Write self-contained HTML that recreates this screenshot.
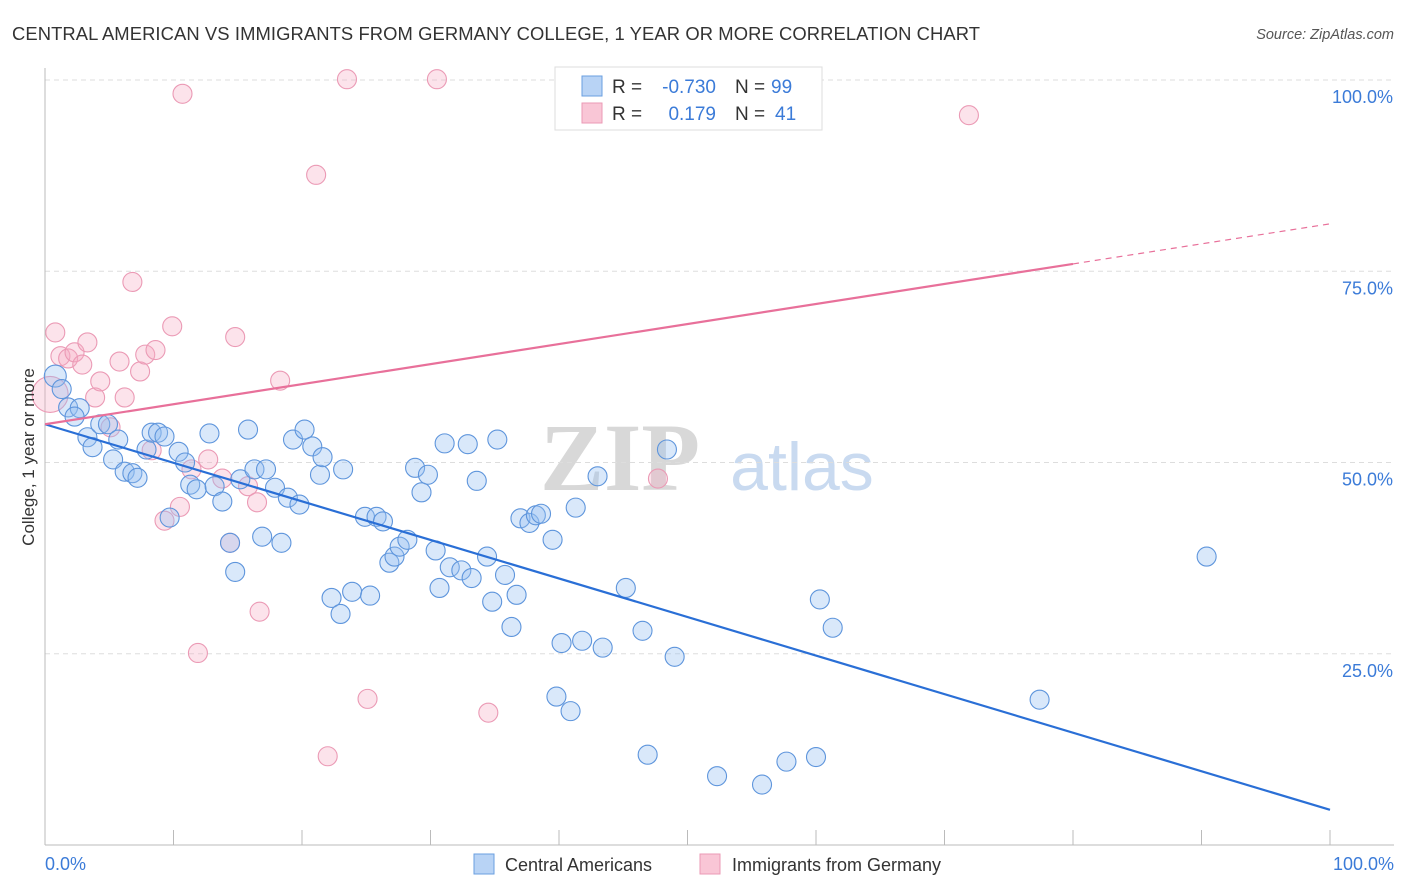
<!DOCTYPE html>
<html><head><meta charset="utf-8"><style>
body{margin:0;background:#fff;font-family:"Liberation Sans",sans-serif}
svg{display:block}
</style></head><body>
<svg id="chart" width="1406" height="892">
<text x="12" y="40" font-size="18.4" fill="#333" textLength="968">CENTRAL AMERICAN VS IMMIGRANTS FROM GERMANY COLLEGE, 1 YEAR OR MORE CORRELATION CHART</text>
<text x="1394" y="39" font-size="14.5" fill="#555" font-style="italic" text-anchor="end">Source: ZipAtlas.com</text>
<text x="620" y="490" font-size="96" fill="#d8d8d8" font-family="Liberation Serif,serif" text-anchor="middle" font-weight="bold">ZIP</text>
<text x="802" y="490" font-size="68" fill="#c9daf0" text-anchor="middle">atlas</text>
<g id="grid"></g><g id="axes"></g><g id="pts"></g><g id="lines"></g>
<text transform="translate(34,457) rotate(-90)" font-size="17" fill="#333" text-anchor="middle">College, 1 year or more</text>
<text x="45" y="870" font-size="18" fill="#3b7bd8">0.0%</text>
<text x="1394" y="870" font-size="18" fill="#3b7bd8" text-anchor="end">100.0%</text>
<g>
<rect x="555" y="67" width="267" height="63" fill="#fff" stroke="#ddd"/>
<rect x="582" y="76" width="20" height="20" fill="#b8d3f5" stroke="#6a9fe0"/>
<rect x="582" y="103" width="20" height="20" fill="#f9c6d6" stroke="#eb9ab5"/>
<text x="612" y="93" font-size="19" fill="#333">R =</text>
<text x="716" y="93" font-size="19" fill="#3b7bd8" text-anchor="end">-0.730</text>
<text x="735" y="93" font-size="19" fill="#333">N =</text>
<text x="771" y="93" font-size="19" fill="#3b7bd8">99</text>
<text x="612" y="120" font-size="19" fill="#333">R =</text>
<text x="716" y="120" font-size="19" fill="#3b7bd8" text-anchor="end">0.179</text>
<text x="735" y="120" font-size="19" fill="#333">N =</text>
<text x="775" y="120" font-size="19" fill="#3b7bd8">41</text>
</g>
<g>
<rect x="474" y="854" width="20" height="20" fill="#b8d3f5" stroke="#6a9fe0"/>
<text x="505" y="871" font-size="18" fill="#333">Central Americans</text>
<rect x="700" y="854" width="20" height="20" fill="#f9c6d6" stroke="#eb9ab5"/>
<text x="732" y="871" font-size="18" fill="#333">Immigrants from Germany</text>
</g>
</svg>
<script>
const yTicks=[25,50,75,100];
const yTickLabels=["25.0%","50.0%","75.0%","100.0%"];
const blueX=[0.8,1.3,1.8,2.7,2.3,3.3,3.7,4.3,4.9,5.7,5.3,6.2,6.8,7.2,7.9,8.3,8.8,9.3,9.7,10.4,10.9,11.3,11.8,12.8,13.2,13.8,14.4,14.8,15.2,15.8,16.3,16.9,17.2,17.9,18.4,18.9,19.3,19.8,20.2,20.8,21.4,21.6,22.3,23.0,23.2,23.9,24.9,25.3,25.8,26.3,26.8,27.2,27.6,28.2,28.8,29.3,29.8,30.4,30.7,31.1,31.5,32.4,32.9,33.2,33.6,34.4,34.8,35.2,35.8,36.3,36.7,37.0,37.7,38.2,38.6,39.5,39.8,40.2,40.9,41.3,41.8,43.0,43.4,45.2,46.5,46.9,48.4,49.0,52.3,55.8,57.7,60.0,60.3,61.3,77.4,90.4];
const blueY=[61.3,59.6,57.2,57.1,56.0,53.3,52.0,55.0,55.0,53.0,50.4,48.8,48.6,48.0,51.7,53.9,53.9,53.4,42.8,51.4,50.0,47.1,46.5,53.8,46.9,44.9,39.5,35.7,47.8,54.3,49.1,40.3,49.1,46.7,39.5,45.4,53.0,44.5,54.3,52.1,48.4,50.7,32.3,30.2,49.1,33.1,42.9,32.6,42.9,42.3,36.9,37.7,39.0,39.9,49.3,46.1,48.4,38.5,33.6,52.5,36.3,35.9,52.4,34.9,47.6,37.7,31.8,53.0,35.3,28.5,32.7,42.7,42.1,43.1,43.3,39.9,19.4,26.4,17.5,44.1,26.7,48.2,25.8,33.6,28.0,11.8,51.7,24.6,9.0,7.9,10.9,11.5,32.1,28.4,19.0,37.7];
const pinkX=[0.4,0.8,1.2,1.8,2.3,2.9,3.3,3.9,4.3,5.1,5.8,6.2,6.8,7.4,7.8,8.6,8.3,9.3,9.9,10.5,10.7,11.4,11.9,12.7,13.8,14.4,14.8,15.8,16.5,16.7,18.3,21.1,22.0,23.5,25.1,30.5,34.5,47.7,71.9];
const pinkY=[58.9,67.0,63.9,63.6,64.4,62.8,65.7,58.5,60.6,54.6,63.2,58.5,73.6,61.9,64.1,64.7,51.6,42.4,67.8,44.2,98.2,49.1,25.1,50.4,47.9,39.5,66.4,46.9,44.8,30.5,60.7,87.6,11.6,100.1,19.1,100.1,17.3,47.9,95.4];
const blueFit=[55.0,4.6];
const pinkFit=[55.0,81.2];
const X0=45,X1=1330,Y0=845,Y100=80;
const sx=v=>X0+(X1-X0)*v/100, sy=v=>Y0-(Y0-Y100)*v/100;
const NS="http://www.w3.org/2000/svg";
function mk(tag,attrs,parent){const e=document.createElementNS(NS,tag);for(const k in attrs)e.setAttribute(k,attrs[k]);document.getElementById(parent).appendChild(e);return e;}
yTicks.forEach((t,i)=>{
  const g=mk('line',{x1:X0,x2:1394,y1:sy(t),y2:sy(t),stroke:'#ddd','stroke-dasharray':'5,4'},'grid');
  
  
  const l=mk('text',{x:1393,y:sy(t)+23,'font-size':18,fill:'#3b7bd8','text-anchor':'end'},'grid');
  l.textContent=yTickLabels[i];
  
  
});
const ax=mk('line',{x1:X0,x2:X0,y1:68,y2:Y0,stroke:'#bbb'},'axes');


const bx=mk('line',{x1:X0,x2:1394,y1:Y0,y2:Y0,stroke:'#bbb'},'axes');


for(let k=1;k<=10;k++){
  const t=mk('line',{x1:sx(k*10),x2:sx(k*10),y1:830,y2:Y0,stroke:'#bbb'},'axes');
  
  
}
pinkX.forEach((x,i)=>{
  const c=mk('circle',{cx:sx(x),cy:sy(pinkY[i]),r:i===0?18:9.5,fill:'rgba(246,170,195,0.33)',stroke:'#eb9ab5','stroke-width':1.1},'pts');
  
  
});
blueX.forEach((x,i)=>{
  const c=mk('circle',{cx:sx(x),cy:sy(blueY[i]),r:i===0?11:9.5,fill:'rgba(150,190,240,0.36)',stroke:'#5e95dc','stroke-width':1.1},'pts');
  
  
});
const bl=mk('line',{x1:sx(0),y1:sy(blueFit[0]),x2:sx(100),y2:sy(blueFit[1]),stroke:'#2a6fd6','stroke-width':2.2},'lines');


const pm=pinkFit[0]+(pinkFit[1]-pinkFit[0])*0.8;
const pl=mk('line',{x1:sx(0),y1:sy(pinkFit[0]),x2:sx(80),y2:sy(pm),stroke:'#e8709a','stroke-width':2.2},'lines');


const pd=mk('line',{x1:sx(80),y1:sy(pm),x2:sx(100),y2:sy(pinkFit[1]),stroke:'#e8709a','stroke-width':1.2,'stroke-dasharray':'6,5'},'lines');


</script>
</body></html>
